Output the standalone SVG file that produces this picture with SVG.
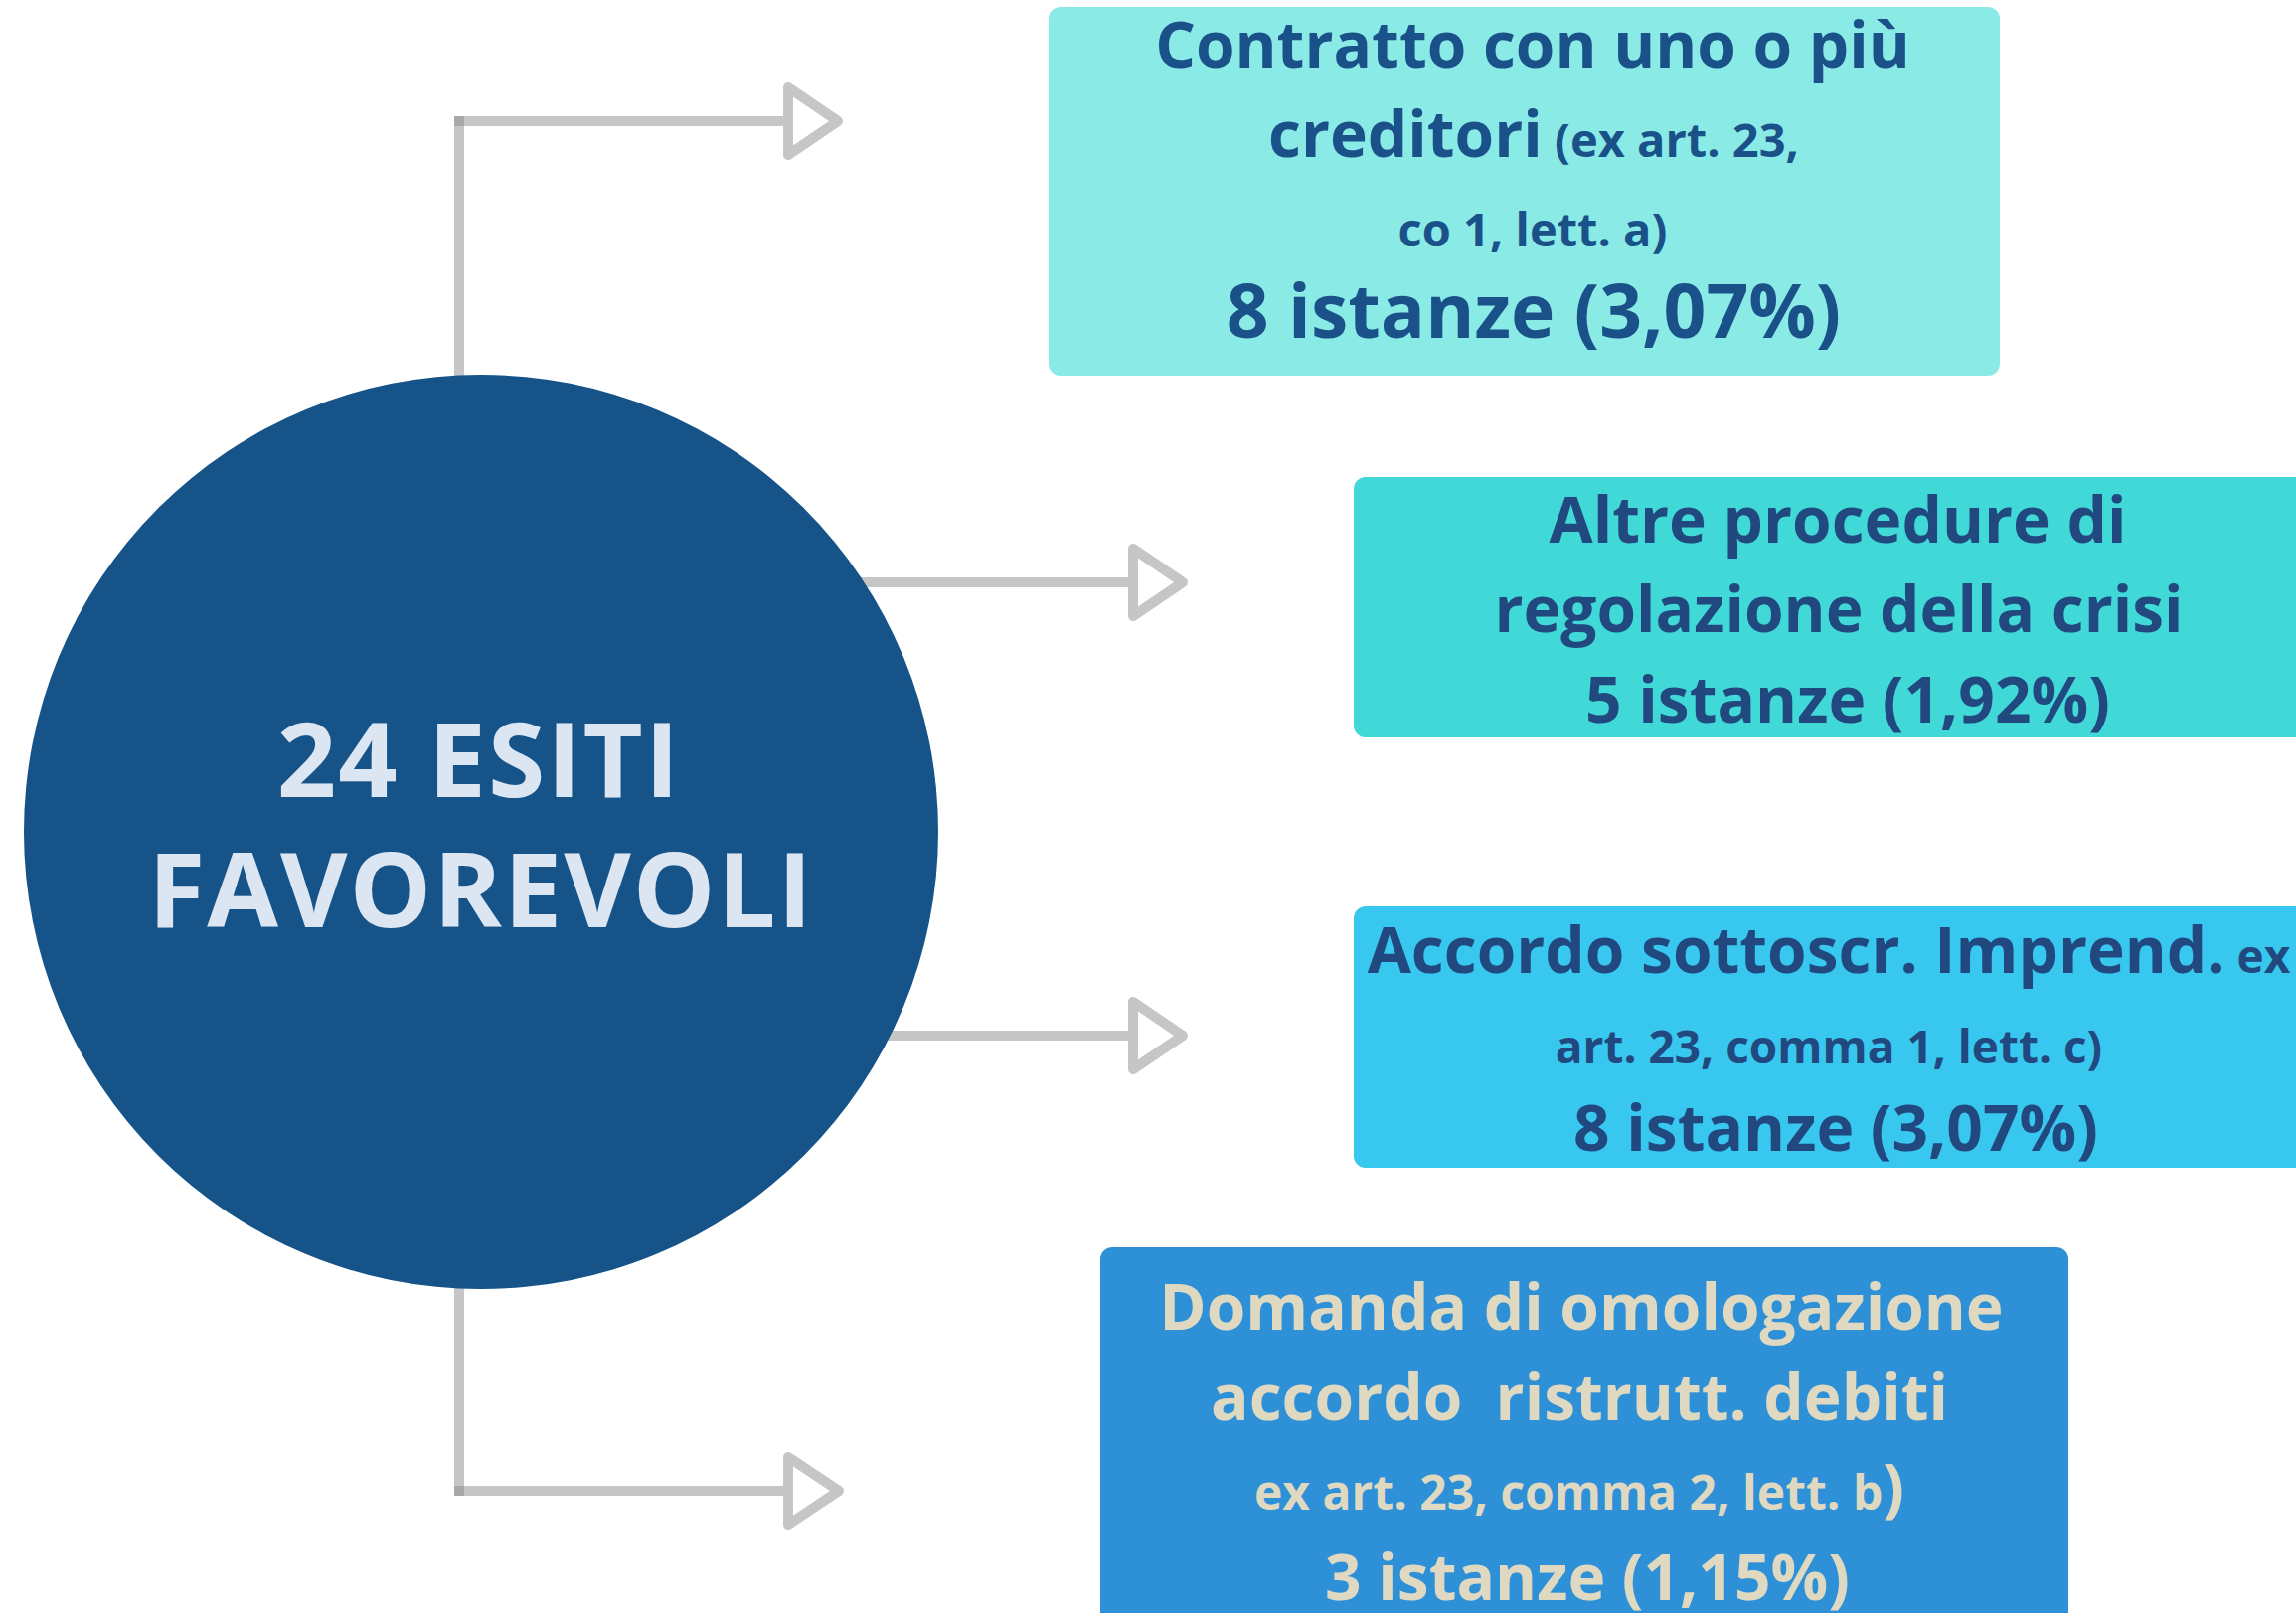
<svg xmlns="http://www.w3.org/2000/svg" width="2310" height="1623" viewBox="0 0 2310 1623">
<style>
text{font-family:"Open Sans","Liberation Sans",sans-serif;font-weight:700;text-anchor:middle}
.line{stroke:#868686;stroke-opacity:0.47;stroke-width:10;fill:none}
.head{stroke:#c6c6c6;stroke-width:10;fill:none;stroke-linejoin:round}
.big{font-size:64px}
.sm{font-size:46px}
.t1{fill:#1a5189}
.t2{fill:#22497f}
.t4{fill:#e0d9c2}
.ct{font-size:104px;fill:#dce6f2;letter-spacing:2px}
</style>
<rect width="2310" height="1623" fill="#ffffff"/>
<g id="connectors">
<line class="line" x1="462" y1="117" x2="462" y2="400"/>
<line class="line" x1="457" y1="122" x2="788" y2="122"/>
<polygon class="head" points="793,88 843,122 793,156"/>
<line class="line" x1="850" y1="586" x2="1135" y2="586"/>
<polygon class="head" points="1140,552 1190,586 1140,620"/>
<line class="line" x1="850" y1="1042" x2="1135" y2="1042"/>
<polygon class="head" points="1140,1008 1190,1042 1140,1076"/>
<line class="line" x1="462" y1="1280" x2="462" y2="1505"/>
<line class="line" x1="457" y1="1500" x2="788" y2="1500"/>
<polygon class="head" points="793,1466 844,1500 793,1534"/>
</g>
<g id="center">
<circle cx="484" cy="837" r="460" fill="#155389"/>
<text class="ct" x="482" y="802">24 ESITI</text>
<text class="ct" x="484" y="933">FAVOREVOLI</text>
</g>
<g id="box1">
<rect x="1055" y="7" width="957" height="371" rx="12" fill="#89eae6"/>
<text class="big t1" x="1542" y="68">Contratto con uno o più</text>
<text class="t1" x="1543" y="158"><tspan font-size="64">creditori</tspan><tspan font-size="47"> (ex art. 23,</tspan></text>
<text class="t1" x="1542" y="248" font-size="47">co 1, lett. a)</text>
<text class="t1" x="1543" y="340" font-size="75">8 istanze (3,07%)</text>
</g>
<g id="box2">
<rect x="1362" y="480" width="970" height="262" rx="12" fill="#40d9d7"/>
<text class="big t2" x="1849" y="546">Altre procedure di</text>
<text class="big t2" x="1850" y="636">regolazione della crisi</text>
<text class="big t2" x="1859" y="727">5 istanze (1,92%)</text>
</g>
<g id="box3">
<rect x="1362" y="912" width="970" height="263" rx="12" fill="#38c7ef"/>
<text class="t2" x="1840" y="979"><tspan font-size="64">Accordo sottoscr. Imprend.</tspan><tspan font-size="46"> ex</tspan></text>
<text class="sm t2" x="1840" y="1070">art. 23, comma 1, lett. c)</text>
<text class="big t2" x="1847" y="1158">8 istanze (3,07%)</text>
</g>
<g id="box4">
<rect x="1107" y="1255" width="974" height="390" rx="12" fill="#2e90d6"/>
<text class="big t4" x="1591" y="1338">Domanda di omologazione</text>
<text class="big t4" x="1589" y="1429" xml:space="preserve">accordo  ristrutt. debiti</text>
<text class="t4" x="1589" y="1519"><tspan font-size="48">ex art. 23, comma 2, lett. b</tspan><tspan font-size="64">)</tspan></text>
<text class="big t4" x="1597" y="1610">3 istanze (1,15%)</text>
</g>
</svg>
